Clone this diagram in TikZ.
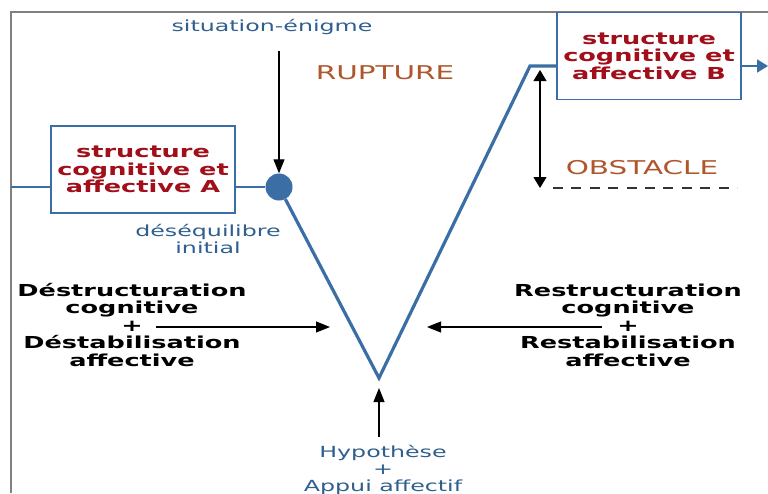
\documentclass[tikz,border=0pt]{standalone}
\usepackage{fontspec}
\setmainfont{DejaVu Sans}[FakeStretch=1.55]
\usetikzlibrary{arrows.meta}
\definecolor{tblue}{HTML}{2F5F8F}
\definecolor{lblue}{HTML}{3A6EA5}
\definecolor{dred}{HTML}{A00F1A}
\definecolor{rbrown}{HTML}{B0562C}
\definecolor{framegray}{HTML}{808080}
\begin{document}
\begin{tikzpicture}[x=1pt,y=-1pt,
  sbox/.style={draw=lblue, line width=1.4pt, minimum width=184pt, minimum height=87pt,
    inner sep=0pt, align=center, text=dred, font=\fontsize{16.5}{17.5}\selectfont\bfseries},
  btext/.style={text=tblue, align=center, inner sep=0pt, font=\fontsize{15.3}{17}\selectfont},
  rtext/.style={text=rbrown, inner sep=0pt, font=\fontsize{19}{22}\selectfont},
  ktext/.style={text=black, align=center, inner sep=0pt, font=\fontsize{16.5}{17.5}\selectfont\bfseries},
  bline/.style={draw=lblue, line width=1.8pt},
  vline/.style={draw=lblue, line width=3.2pt, line join=miter},
  arr/.style={draw=black, line width=1.1pt, -{Triangle[length=14pt,width=11pt]}},
  arr2/.style={draw=black, line width=1.1pt, {Triangle[length=11pt,width=13pt]}-{Triangle[length=11pt,width=13pt]}},
]
\useasboundingbox (0,0) rectangle (768,493);
\fill[white] (0,0) rectangle (768,493);
% frame
\coordinate (f1) at (11,493);
\coordinate (f2) at (11,12);
\coordinate (f3) at (768,12);
\draw[framegray, line width=1.3pt] (f1) -- (f2) -- (f3);

% boxes
\node[sbox, fill=white] (A) at (143,169.5) {structure\\cognitive et\\affective A};
\node[sbox, fill=white] (B) at (649,56) {structure\\cognitive et\\affective B};

% dot and lines
\node[circle, fill=lblue, inner sep=0pt, minimum size=27pt] (dot) at (279,187) {};
\coordinate (L0) at (11,187);
\draw[bline] (L0) -- (L0 -| A.west);
\draw[bline] (A.east |- dot) -- (dot);
\coordinate (V) at (379,378);
\coordinate (T) at (530,66);
\draw[vline] (dot) -- (V) -- (T) -- (T -| B.west);
\coordinate (Out) at (768,66);
\draw[bline, -{Triangle[length=11pt,width=13pt]}] (B.east |- T) -- (Out);

% situation
\node[btext] (sit) at (272,27) {situation-énigme};
\coordinate (s0) at (279,51);
\draw[arr] (s0) -- (dot.north);

% rupture / obstacle
\node[rtext] (rup) at (385,73) {RUPTURE};
\node[rtext] (obs) at (642,168) {OBSTACLE};
\coordinate (d1) at (540,70);
\coordinate (d2) at (540,188);
\draw[arr2] (d1) -- (d2);
\coordinate (e1) at (553,188);
\coordinate (e2) at (737,188);
\draw[black!80, line width=1.1pt, dash pattern=on 10pt off 8.4pt] (e1) -- (e2);

% desequilibre
\node[btext] (deq) at (208,239) {déséquilibre\\initial};

% left and right blocks
\node[ktext] (LB) at (132,325) {Déstructuration\\cognitive\\+\\Déstabilisation\\affective};
\node[ktext] (RB) at (628,325) {Restructuration\\cognitive\\+\\Restabilisation\\affective};
\coordinate (la1) at (156,327);
\coordinate (la2) at (330,327);
\draw[arr] (la1) -- (la2);
\coordinate (ra1) at (602,327);
\coordinate (ra2) at (427,327);
\draw[arr] (ra1) -- (ra2);

% hypothese
\node[btext, anchor=north] (H) at (383,445) {Hypothèse\\+\\Appui affectif};
\coordinate (h0) at (379,437);
\coordinate (h1) at (379,388);
\draw[arr] (h0) -- (h1);
\end{tikzpicture}
\end{document}
